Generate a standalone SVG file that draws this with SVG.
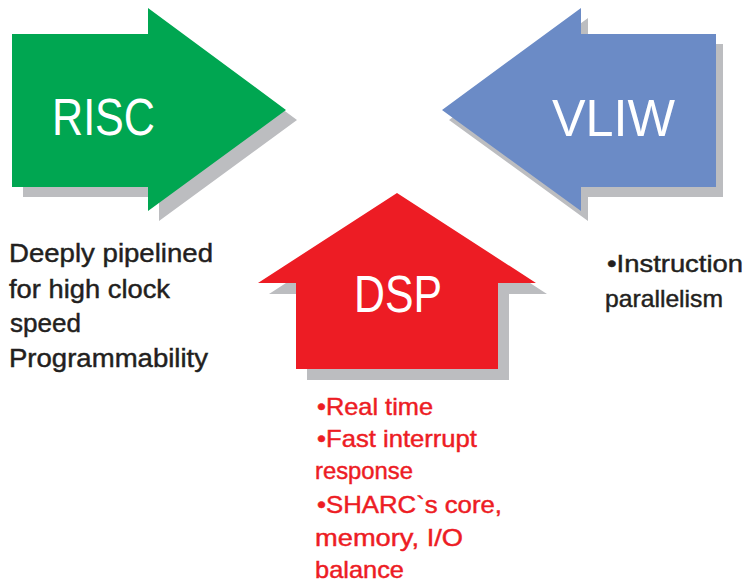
<svg xmlns="http://www.w3.org/2000/svg" width="753" height="582" viewBox="0 0 753 582">
<style>
.shadow{fill:#bcbdc0}
.label{font-family:"Liberation Sans",Arial,sans-serif;fill:#ffffff;font-size:52px}
.txt{font-family:"Liberation Sans",Arial,sans-serif;font-size:26px;fill:#231f20;stroke:#231f20;stroke-width:0.45px}
.red{fill:#ed1c24;stroke:#ed1c24;font-size:24px}
.blk{font-size:24px}
</style>
<rect width="753" height="582" fill="#ffffff"/>
<g id="risc">
<polygon class="shadow" transform="translate(11,10)" points="12,34 148,34 148,8 286,110 148,211 148,187 12,187"/>
<polygon fill="#00a651" points="12,34 148,34 148,8 286,110 148,211 148,187 12,187"/>
<text class="label" x="52" y="135" textLength="103" lengthAdjust="spacingAndGlyphs">RISC</text>
</g>
<g id="vliw">
<polygon class="shadow" transform="translate(7,10)" points="442,110 581,8 581,34 716,34 716,187 581,187 581,211"/>
<polygon fill="#6b8bc6" points="442,110 581,8 581,34 716,34 716,187 581,187 581,211"/>
<text class="label" x="552" y="136" textLength="123" lengthAdjust="spacingAndGlyphs">VLIW</text>
</g>
<g id="dsp">
<polygon class="shadow" transform="translate(11,11)" points="397,193 536,283 498,283 498,369 296,369 296,283 258,283"/>
<polygon fill="#ed1c24" points="397,193 536,283 498,283 498,369 296,369 296,283 258,283"/>
<text class="label" x="354" y="312" textLength="88" lengthAdjust="spacingAndGlyphs">DSP</text>
</g>
<g id="risc-notes" class="txt">
<text x="9" y="262" textLength="204" lengthAdjust="spacingAndGlyphs">Deeply pipelined</text>
<text x="9" y="298" textLength="161" lengthAdjust="spacingAndGlyphs">for high clock</text>
<text x="10" y="332" textLength="71" lengthAdjust="spacingAndGlyphs">speed</text>
<text x="9" y="367" textLength="199" lengthAdjust="spacingAndGlyphs">Programmability</text>
</g>
<g id="vliw-notes" class="txt blk">
<text x="607" y="272" textLength="136" lengthAdjust="spacingAndGlyphs">•Instruction</text>
<text x="605" y="307" textLength="118" lengthAdjust="spacingAndGlyphs">parallelism</text>
</g>
<g id="dsp-notes" class="txt red">
<text x="317" y="415" textLength="116" lengthAdjust="spacingAndGlyphs">•Real time</text>
<text x="317" y="447" textLength="160" lengthAdjust="spacingAndGlyphs">•Fast interrupt</text>
<text x="315" y="479" textLength="98" lengthAdjust="spacingAndGlyphs">response</text>
<text x="317" y="513" textLength="185" lengthAdjust="spacingAndGlyphs">•SHARC`s core,</text>
<text x="315" y="546" textLength="148" lengthAdjust="spacingAndGlyphs">memory, I/O</text>
<text x="315" y="578" textLength="89" lengthAdjust="spacingAndGlyphs">balance</text>
</g>
<g id="connectors"></g>
</svg>
